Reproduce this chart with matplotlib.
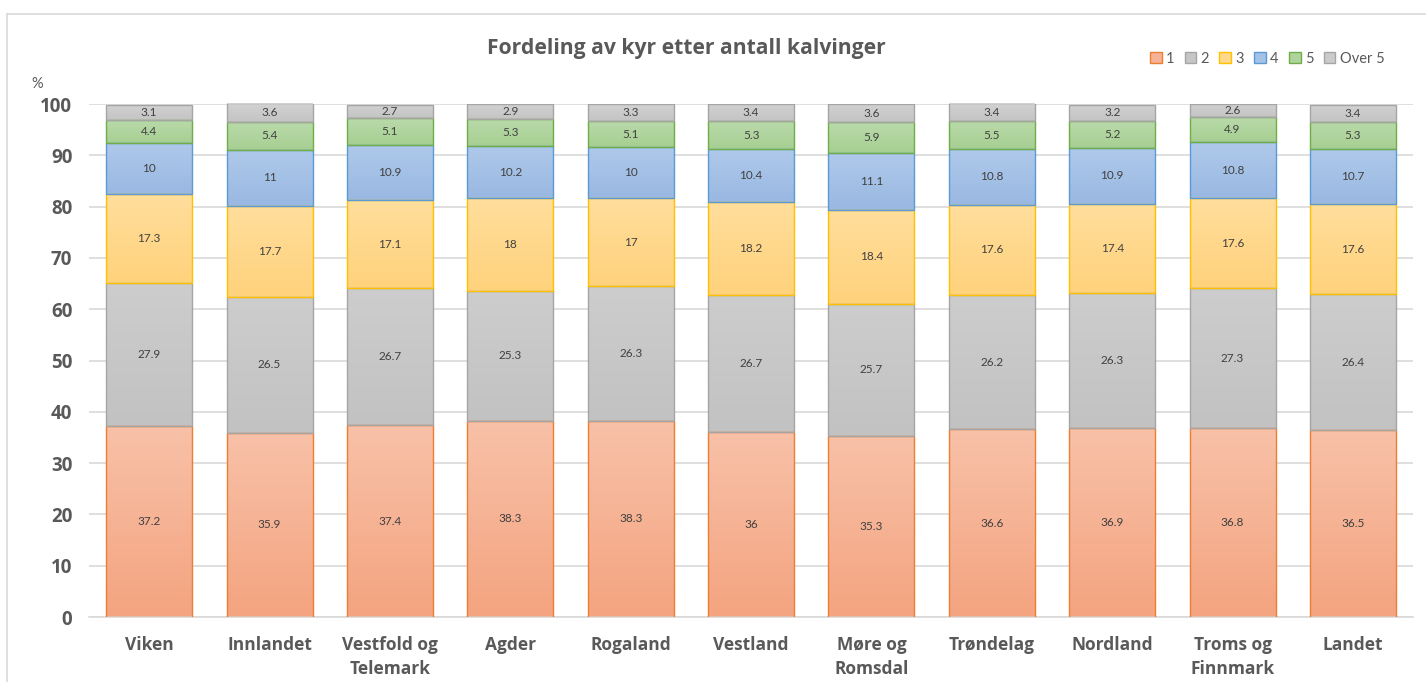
import numpy as np
import matplotlib.pyplot as plt
from matplotlib.colors import LinearSegmentedColormap
from matplotlib.patches import Patch

plt.rcParams['font.family'] = ['Lato', 'DejaVu Sans']
BOLD = ['Open Sans', 'DejaVu Sans']

# data
regions = ["Viken", "Innlandet", "Vestfold og\nTelemark", "Agder", "Rogaland",
           "Vestland", "Møre og\nRomsdal", "Trøndelag", "Nordland",
           "Troms og\nFinnmark", "Landet"]
series = ["1", "2", "3", "4", "5", "Over 5"]
s1 = [37.2, 35.9, 37.4, 38.3, 38.3, 36.0, 35.3, 36.6, 36.9, 36.8, 36.5]
s2 = [27.9, 26.5, 26.7, 25.3, 26.3, 26.7, 25.7, 26.2, 26.3, 27.3, 26.4]
s3 = [17.3, 17.7, 17.1, 18.0, 17.0, 18.2, 18.4, 17.6, 17.4, 17.6, 17.6]
s4 = [10.0, 11.0, 10.9, 10.2, 10.0, 10.4, 11.1, 10.8, 10.9, 10.8, 10.7]
s5 = [4.4, 5.4, 5.1, 5.3, 5.1, 5.3, 5.9, 5.5, 5.2, 4.9, 5.3]
s6 = [3.1, 3.6, 2.7, 2.9, 3.3, 3.4, 3.6, 3.4, 3.2, 2.6, 3.4]
values = [s1, s2, s3, s4, s5, s6]

# (top colour, bottom colour, edge colour, legend colour)
styles = [("#F8C1A8", "#F4A480", "#ED7D31", "#F6B295"),
          ("#CDCDCD", "#C2C2C2", "#A5A5A5", "#C6C6C6"),
          ("#FFDE9C", "#FFD27C", "#FFC000", "#FFD88C"),
          ("#AFC9EA", "#99B8E2", "#5B9BD5", "#A4C1E6"),
          ("#B9DAAA", "#A7CF92", "#70AD47", "#AFD39D"),
          ("#D2D2D2", "#C4C4C4", "#A5A5A5", "#CBCBCB")]

fig = plt.figure(figsize=(14.26, 6.82), dpi=100)
ax = fig.add_axes([0.0624, 0.0953, 0.9286, 0.7522])

x = np.arange(len(regions))
width = 0.714
bottom = np.zeros(len(regions))
grad = np.linspace(0, 1, 64).reshape(-1, 1)

for vals, (ctop, cbot, cedge, cleg), name in zip(values, styles, series):
    cmap = LinearSegmentedColormap.from_list("g", [ctop, cbot])
    bars = ax.bar(x, vals, width, bottom=bottom, facecolor="none",
                  edgecolor=cedge, linewidth=1.0, zorder=3, label=name)
    for b, v, y0 in zip(bars, vals, bottom):
        im = ax.imshow(grad, cmap=cmap, aspect="auto", zorder=2,
                       extent=[b.get_x(), b.get_x() + b.get_width(),
                               y0, y0 + v], origin="upper")
        im.set_clip_path(b)
        ax.text(b.get_x() + b.get_width() / 2, y0 + v / 2, f"{v:g}",
                ha="center", va="center", fontsize=8.5, color="#404040",
                zorder=4)
    bottom += np.array(vals)

ax.set_xlim(-0.5, len(regions) - 0.5)
ax.set_ylim(0, 100)
ax.set_yticks(range(0, 101, 10))
ax.set_xticks(x)
ax.set_xticklabels(regions, linespacing=1.4)
for lab in ax.get_xticklabels():
    lab.set_fontsize(12.5)
for lab in ax.get_yticklabels():
    lab.set_fontsize(13.5)
for lab in ax.get_xticklabels() + ax.get_yticklabels():
    lab.set_family(BOLD)
    lab.set_fontweight("bold")
    lab.set_color("#595959")
ax.tick_params(length=0)
ax.tick_params(axis="x", pad=14)
ax.tick_params(axis="y", pad=12)
ax.grid(axis="y", color="#D9D9D9", linewidth=1.2, zorder=0)
for sp in ["top", "right", "left"]:
    ax.spines[sp].set_visible(False)
ax.spines["bottom"].set_color("#D9D9D9")
ax.spines["bottom"].set_linewidth(1.2)

ax.text(-0.93, 102.6, "%", fontsize=10.5, color="#595959", ha="center",
        va="bottom", transform=ax.transData, clip_on=False)

fig.text(0.481, 0.929, "Fordeling av kyr etter antall kalvinger",
         ha="center", va="center", fontsize=15.2, fontweight="bold",
         color="#595959", family=BOLD)

# legend
handles = [Patch(facecolor=s[3], edgecolor=s[2], linewidth=1.0) for s in styles]
leg = fig.legend(handles, series, loc="center right",
                 bbox_to_anchor=(0.975, 0.914), ncol=6, frameon=False,
                 fontsize=10.5, handlelength=0.8, handleheight=0.8,
                 handletextpad=0.3, columnspacing=0.7, borderaxespad=0)
for t in leg.get_texts():
    t.set_color("#595959")

# outer chart frame
fig.add_artist(plt.Line2D([0.005, 0.005], [0.0, 0.979], color="#D9D9D9",
                          linewidth=1.2, transform=fig.transFigure))
fig.add_artist(plt.Line2D([0.005, 1.0], [0.979, 0.979], color="#D9D9D9",
                          linewidth=1.2, transform=fig.transFigure))

fig.savefig("out.png", dpi=100)
